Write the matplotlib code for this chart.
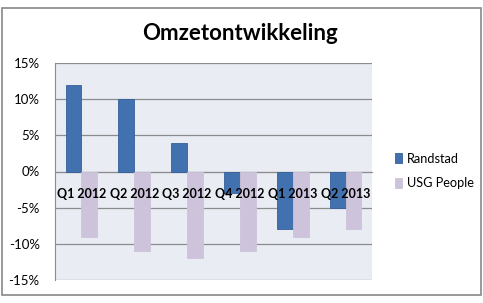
import numpy as np
import matplotlib
matplotlib.use("Agg")
import matplotlib.pyplot as plt
from matplotlib.patches import Rectangle
from matplotlib.ticker import FuncFormatter

kwartalen = ["Q1 2012", "Q2 2012", "Q3 2012", "Q4 2012", "Q1 2013", "Q2 2013"]
randstad = [12, 10, 4, -3, -8, -5]
usg_people = [-9, -11, -12, -11, -9, -8]

plt.rcParams["font.family"] = ["Lato", "DejaVu Sans"]

fig = plt.figure(figsize=(4.83, 3.03), dpi=100)
fig.patches.append(Rectangle((2/483, 8/303), 479/483, 287/303, transform=fig.transFigure,
                             fill=False, edgecolor="#888888", linewidth=1.2))

ax = fig.add_axes([55/483, 23/303, 317/483, 217/303])
ax.set_facecolor("#E9EDF3")

x = np.arange(len(kwartalen))
w = 0.3
ax.bar(x - w/2, randstad, w, color="#4171AE", edgecolor="#36609A", linewidth=0.6,
       label="Randstad", zorder=3)
ax.bar(x + w/2, usg_people, w, color="#CDC3DB", edgecolor="#CDC3DB", linewidth=0.6,
       label="USG People", zorder=3)

ax.set_xlim(-0.5, len(kwartalen) - 0.5)
ax.set_ylim(-15, 15)
ax.set_yticks(np.arange(-15, 16, 5))
ax.yaxis.set_major_formatter(FuncFormatter(lambda v, p: f"{v:.0f}%"))
ax.grid(axis="y", color="#8C8C8C", linewidth=0.9)
ax.yaxis.set_zorder(1)
ax.xaxis.set_zorder(5)

ax.spines["bottom"].set_position(("data", 0))
ax.spines["bottom"].set_color("#8C8C8C")
ax.spines["left"].set_color("#8C8C8C")
ax.spines["top"].set_visible(False)
ax.spines["right"].set_visible(False)
ax.tick_params(axis="x", length=0, pad=12)
ax.tick_params(axis="y", length=0, pad=11, labelsize=9.5)
ax.set_xticks(x, kwartalen, fontsize=9, fontweight="bold")

fig.text(240/483, 1 - 33/303, "Omzetontwikkeling", ha="center", va="center",
         fontsize=16, fontweight="bold")

fig.legend(loc="center left", bbox_to_anchor=(383/483, 1 - 171/303), frameon=False,
           fontsize=9.2, handlelength=0.6, handleheight=0.8, handletextpad=0.4,
           labelspacing=1.0)

fig.savefig("out.png", dpi=100)
